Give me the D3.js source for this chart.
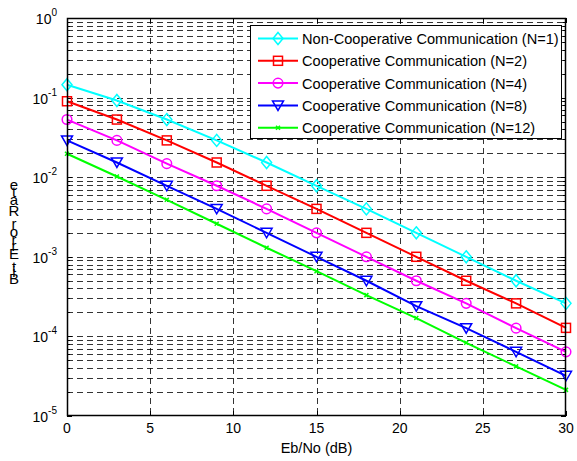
<!DOCTYPE html>
<html><head><meta charset="utf-8">
<script src="https://cdn.jsdelivr.net/npm/d3@7"></script>
<style>
html,body{margin:0;padding:0;background:#fff;}
svg{display:block;font-family:Arial,"Liberation Sans",sans-serif;}
</style></head>
<body><svg id="c" width="577" height="461"></svg>
<script>
const snr = [0, 3, 6, 9, 12, 15, 18, 21, 24, 27, 30];
const nonCoop = [0.145, 0.092, 0.053, 0.029, 0.0153, 0.0078, 0.004, 0.002, 0.001, 0.0005, 0.00026];
const coopN2  = [0.09, 0.053, 0.029, 0.0153, 0.0078, 0.004, 0.002, 0.001, 0.0005, 0.00026, 0.000128];
const coopN4  = [0.053, 0.029, 0.0148, 0.0078, 0.004, 0.002, 0.001, 0.0005, 0.00026, 0.000127, 0.000064];
const coopN8  = [0.029, 0.0153, 0.0078, 0.004, 0.002, 0.001, 0.0005, 0.00024, 0.000127, 0.000064, 0.000032];
const coopN12 = [0.0197, 0.0102, 0.0052, 0.0026, 0.0013, 0.00066, 0.00033, 0.00017, 0.000083, 0.000042, 0.0000213];
const seriesNames = ["Non-Cooperative Communication (N=1)", "Cooperative Communication (N=2)",
  "Cooperative Communication (N=4)", "Cooperative Communication (N=8)", "Cooperative Communication (N=12)"];
const seriesColors = ["#00FFFF", "#FF0000", "#FF00FF", "#0000FF", "#00FF00"];
const seriesMarkers = ["diamond", "square", "circle", "triangle", "x"];
const xTicks = [0, 5, 10, 15, 20, 25, 30];
const yExponents = [0, -1, -2, -3, -4, -5];
const xLabel = "Eb/No (dB)";
const yLabel = "Bit Error Rate";

const series = [nonCoop, coopN2, coopN4, coopN8, coopN12];

const W = 577, H = 461;
const m = {left: 67, right: 11, top: 18, bottom: 45};
const svg = d3.select("#c");
const x = d3.scaleLinear().domain([0, 30]).range([m.left, W - m.right]);
const y = d3.scaleLog().domain([1e-5, 1]).range([H - m.bottom, m.top]);
const x0 = x.range()[0], x1 = x.range()[1], y0 = y.range()[0], y1 = y.range()[1];

const minorVals = [];
for (let d = -5; d < 0; d++) for (let k = 2; k <= 9; k++) minorVals.push(k * Math.pow(10, d));
const majorVals = yExponents.map(e => Math.pow(10, e));

const grid = svg.append("g").attr("stroke", "#000").attr("stroke-width", 0.8)
  .attr("stroke-dasharray", "6,4").attr("fill", "none");
xTicks.filter(t => t > 0 && t < 30).forEach(t => {
  grid.append("line").attr("x1", Math.round(x(t)) + 0.5).attr("x2", Math.round(x(t)) + 0.5)
    .attr("y1", y1).attr("y2", y0);
});
majorVals.concat(minorVals).filter(v => v > 1e-5 && v < 1).forEach(v => {
  const yy = Math.round(y(v)) + 0.5;
  grid.append("line").attr("x1", x0).attr("x2", x1).attr("y1", yy).attr("y2", yy);
});

const tk = svg.append("g").attr("stroke", "#000").attr("stroke-width", 1);
xTicks.forEach(t => {
  const xx = Math.round(x(t)) + 0.5;
  tk.append("line").attr("x1", xx).attr("x2", xx).attr("y1", y0).attr("y2", y0 - 5);
  tk.append("line").attr("x1", xx).attr("x2", xx).attr("y1", y1).attr("y2", y1 + 5);
});
majorVals.forEach(v => {
  const yy = Math.round(y(v)) + 0.5;
  tk.append("line").attr("x1", x0).attr("x2", x0 + 5).attr("y1", yy).attr("y2", yy);
  tk.append("line").attr("x1", x1).attr("x2", x1 - 5).attr("y1", yy).attr("y2", yy);
});
minorVals.forEach(v => {
  const yy = Math.round(y(v)) + 0.5;
  tk.append("line").attr("x1", x0).attr("x2", x0 + 3).attr("y1", yy).attr("y2", yy);
  tk.append("line").attr("x1", x1).attr("x2", x1 - 3).attr("y1", yy).attr("y2", yy);
});

const line = d3.line().x((d, i) => x(snr[i])).y(d => y(d));
function drawMarker(g, type, cx, cy, color) {
  if (type === "diamond") {
    g.append("path").attr("d", `M${cx},${cy-6}L${cx+5},${cy}L${cx},${cy+6}L${cx-5},${cy}Z`)
      .attr("fill", "none").attr("stroke", color).attr("stroke-width", 1.5);
  } else if (type === "square") {
    g.append("rect").attr("x", cx - 4.5).attr("y", cy - 4.5).attr("width", 9).attr("height", 9)
      .attr("fill", "none").attr("stroke", color).attr("stroke-width", 1.5);
  } else if (type === "circle") {
    g.append("circle").attr("cx", cx).attr("cy", cy).attr("r", 4.8)
      .attr("fill", "none").attr("stroke", color).attr("stroke-width", 1.5);
  } else if (type === "triangle") {
    g.append("path").attr("d", `M${cx-5.5},${cy-4.5}L${cx+5.5},${cy-4.5}L${cx},${cy+5}Z`)
      .attr("fill", "none").attr("stroke", color).attr("stroke-width", 1.5);
  } else if (type === "x") {
    g.append("path").attr("d", `M${cx-2},${cy-2}L${cx+2},${cy+2}M${cx-2},${cy+2}L${cx+2},${cy-2}`)
      .attr("fill", "none").attr("stroke", color).attr("stroke-width", 1.5);
  }
}
series.forEach((s, si) => {
  const g = svg.append("g");
  g.append("path").datum(s).attr("d", line).attr("fill", "none")
    .attr("stroke", seriesColors[si]).attr("stroke-width", 2);
  s.forEach((v, i) => drawMarker(g, seriesMarkers[si], x(snr[i]), y(v), seriesColors[si]));
});

svg.append("rect").attr("x", x0 + 0.5).attr("y", y1 + 0.5).attr("width", x1 - x0 - 1).attr("height", y0 - y1 - 1)
  .attr("fill", "none").attr("stroke", "#000").attr("stroke-width", 1.5);

const fs = 14;
xTicks.forEach(t => {
  svg.append("text").attr("x", x(t)).attr("y", y0 + 17).attr("text-anchor", "middle")
    .attr("font-size", fs).attr("fill", "#000").text(t);
});
svg.append("text").attr("x", (x0 + x1) / 2).attr("y", y0 + 37).attr("text-anchor", "middle")
  .attr("font-size", 14.5).attr("fill", "#000").text(xLabel);

yExponents.forEach(e => {
  const yy = y(Math.pow(10, e));
  const t = svg.append("text").attr("x", x0 - 10).attr("y", yy + 6).attr("text-anchor", "end")
    .attr("font-size", fs).attr("fill", "#000");
  t.append("tspan").text("10");
  t.append("tspan").attr("font-size", 10).attr("dy", -8).text(e);
});

// y label: upright glyphs stacked vertically (as in reference), one text element
const adv = {B:.667,i:.222,t:.278," ":.278,E:.667,r:.333,o:.556,R:.722,a:.556,e:.556};
let acc = 0;
const k = 17.3, yStart = 285;
const xs = [], ys = [];
yLabel.split("").forEach(ch => {
  const w = adv[ch] || .5;
  const c = acc + w / 2;
  acc += w;
  xs.push(14); ys.push((yStart - c * k + 5).toFixed(1));
});
svg.append("text").attr("x", xs.join(" ")).attr("y", ys.join(" ")).attr("text-anchor", "middle")
  .attr("font-size", 15).attr("fill", "#000").text(yLabel);

const lg = svg.append("g");
const lx = 250, ly = 25, lw = 311, lh = 113;
lg.append("rect").attr("x", lx + 0.5).attr("y", ly + 0.5).attr("width", lw).attr("height", lh)
  .attr("fill", "#fff").attr("stroke", "#000").attr("stroke-width", 1);
seriesNames.forEach((nm, i) => {
  const yy = ly + 13.5 + i * 22.3;
  lg.append("line").attr("x1", lx + 8).attr("x2", lx + 48).attr("y1", yy).attr("y2", yy)
    .attr("stroke", seriesColors[i]).attr("stroke-width", 2);
  drawMarker(lg, seriesMarkers[i], lx + 28, yy, seriesColors[i]);
  lg.append("text").attr("x", lx + 52).attr("y", yy + 5.5).attr("font-size", 14.6)
    .attr("fill", "#000").text(nm);
});
</script></body></html>
